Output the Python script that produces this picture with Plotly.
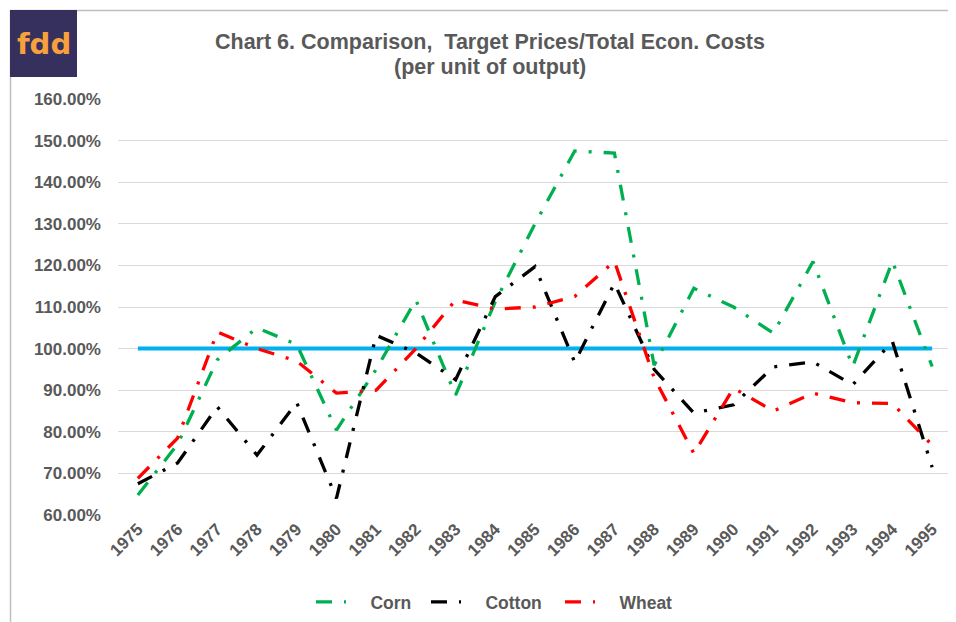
import plotly.graph_objects as go

years = list(range(1975, 1996))
corn = [64.8, 77, 97.3, 105, 101, 80.4, 95, 111.7, 88.8, 111.3, 130, 147.5, 147,
        96, 114.5, 110, 103.7, 120.9, 95.7, 121, 95.7]
cotton = [67.5, 72.5, 86, 74.4, 87, 64, 103.2, 99, 92.5, 112.5, 119.7, 96.7, 115.7,
          95, 84.5, 86.5, 95.6, 96.8, 91.3, 101.7, 71.5]
wheat = [68.8, 78.5, 104, 100, 97, 89.3, 90, 100, 111.7, 109.5, 110, 112.5, 121,
         93, 74.8, 90.5, 85, 89.3, 87, 86.8, 76.8]
target = [100] * len(years)

series_names = ["Corn", "Cotton", "Wheat"]
series_colors = ["#00B050", "#000000", "#FF0000"]
title_line1 = "Chart 6. Comparison,  Target Prices/Total Econ. Costs"
title_line2 = "(per unit of output)"

OFF = 8  # page body margin
W, H = 956 - OFF, 622 - OFF
ML, MR, MT, MB = 118 - OFF, 4, 99 - OFF, 107
PW, PH = W - ML - MR, H - MT - MB


def px_x(px):
    return (px - OFF - ML) / PW


def px_y(py):
    return (H - MB - (py - OFF)) / PH


grey = "#595959"
legend_ids = ["legend", "legend2", "legend3"]
legend_left_px = [311, 426, 560]

fig = go.Figure()
fig.add_trace(go.Scatter(x=years, y=target, mode="lines", showlegend=False,
                         line=dict(color="#00B0F0", width=4), hoverinfo="skip"))
for name, vals, col, lid in zip(series_names, [corn, cotton, wheat], series_colors, legend_ids):
    fig.add_trace(go.Scatter(x=years, y=vals, mode="lines", name="\u00a0" * 4 + name,
                             legend=lid,
                             line=dict(color=col, width=3.3, dash="16px,12px,3px,12px")))

layout_legends = {}
for lid, lx in zip(legend_ids, legend_left_px):
    layout_legends[lid] = dict(orientation="h", x=px_x(lx), xanchor="left",
                               y=px_y(584), yanchor="top",
                               font=dict(size=17.5, color=grey, weight="bold"),
                               bgcolor="rgba(0,0,0,0)")

fig.update_layout(
    width=W, height=H,
    margin=dict(l=ML, r=MR, t=MT, b=MB, autoexpand=False),
    paper_bgcolor="white", plot_bgcolor="white",
    font=dict(family="Liberation Sans, Arial, sans-serif", color=grey),
    xaxis=dict(range=[1974.5, 1995.5], tickmode="array", tickvals=years,
               ticktext=[str(y) for y in years], tickangle=-45,
               tickfont=dict(size=17, color=grey, weight="bold"),
               showgrid=False, zeroline=False, showline=False, ticks=""),
    yaxis=dict(range=[60, 160], dtick=10, tick0=60, tickformat=".2f", ticksuffix="%",
               tickfont=dict(size=17, color=grey, weight="bold"),
               showgrid=True, gridcolor="#D9D9D9", gridwidth=1, zeroline=False,
               showline=False, ticks="", ticklabelstandoff=16),
    showlegend=True,
    **layout_legends,
)

# title (two lines)
for txt, yc in [(title_line1, 42), (title_line2, 67)]:
    fig.add_annotation(text=txt, xref="paper", yref="paper", x=px_x(490), y=px_y(yc),
                       xanchor="center", yanchor="middle", showarrow=False,
                       font=dict(size=21.5, color=grey, weight="bold"))

# chart border (top and left visible)
fig.add_shape(type="line", xref="paper", yref="paper", x0=px_x(10.5), x1=px_x(970),
              y0=px_y(10.5), y1=px_y(10.5), line=dict(color="#BFBFBF", width=1.5))
fig.add_shape(type="line", xref="paper", yref="paper", x0=px_x(10.5), x1=px_x(10.5),
              y0=px_y(10.5), y1=px_y(640), line=dict(color="#BFBFBF", width=1.5))
# logo
fig.add_shape(type="rect", xref="paper", yref="paper", x0=px_x(10), x1=px_x(77),
              y0=px_y(77), y1=px_y(10), fillcolor="#35305E", line=dict(width=0))
fig.add_annotation(text="fdd", xref="paper", yref="paper", x=px_x(44), y=px_y(44),
                   xanchor="center", yanchor="middle", showarrow=False,
                   font=dict(family="DejaVu Sans, sans-serif", size=29, color="#F8A13C",
                             weight="bold"))

fig.write_html("out.html")
